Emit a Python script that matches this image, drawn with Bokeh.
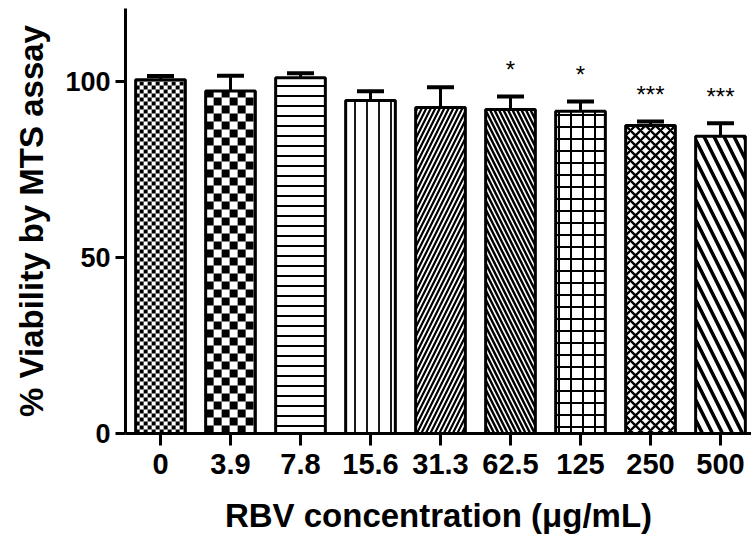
import math
from bokeh.plotting import figure
from bokeh.models import Range1d, FixedTicker
from bokeh.core.properties import value
from bokeh.embed import file_html
from bokeh.resources import INLINE

# ---- data ----
conc = ["0", "3.9", "7.8", "15.6", "31.3", "62.5", "125", "250", "500"]
viability = [100.5, 97.3, 101.0, 94.6, 92.6, 92.0, 91.5, 87.5, 84.4]
sem = [1.0, 4.3, 1.3, 2.6, 5.7, 3.7, 2.8, 1.1, 3.7]
sig = ["", "", "", "", "", "*", "*", "***", "***"]
y_ticks = [0, 50, 100]

# ---- styling ----
FONT = "Liberation Sans"
FRAME_W, FRAME_H = 626, 425
X0, X1 = -0.5, -0.5 + 626 / 70.0
Y0, Y1 = 0, 120.7
PX_X = FRAME_W / (X1 - X0)
PX_Y = FRAME_H / (Y1 - Y0)
BW = 0.71

patterns = [None, None, "horizontal_line", "vertical_line", "right_diagonal_line",
            "left_diagonal_line", "cross", "diagonal_cross", "left_diagonal_line"]
scales = [1, 1, 10, 12, 9, 9, 12, 10, 20]
weights = [1, 1, 2, 1.8, 2.2, 2.4, 2, 2.3, 3.5]
checker_px = [4, 8, 0, 0, 0, 0, 0, 0, 0]

p = figure(frame_width=FRAME_W, frame_height=FRAME_H,
           x_range=Range1d(X0, X1), y_range=Range1d(Y0, Y1),
           output_backend="svg", toolbar_location=None,
           min_border_left=125, min_border_right=0, min_border_top=8, min_border_bottom=109)
p.outline_line_color = None
p.xgrid.visible = False
p.ygrid.visible = False
p.background_fill_color = "white"
p.border_fill_color = "white"

xs = list(range(len(conc)))

# error bars (upper only)
tops = [v + e for v, e in zip(viability, sem)]
cap = 13.5 / PX_X
p.segment(x0=xs, y0=viability, x1=xs, y1=tops, line_color="black", line_width=3)
p.segment(x0=[x - cap for x in xs], y0=tops, x1=[x + cap for x in xs], y1=tops,
          line_color="black", line_width=4)

# bars with hatch
for i in xs:
    kw = {}
    if patterns[i]:
        kw = dict(hatch_pattern=patterns[i], hatch_scale=scales[i],
                  hatch_weight=weights[i], hatch_color="black")
    p.vbar(x=[i], top=[viability[i]], width=BW, bottom=0,
           fill_color="white", line_color=None, **kw)

# checkerboard fills
for i in xs:
    c = checker_px[i]
    if not c:
        continue
    cw, ch = c / PX_X, c / PX_Y
    left0 = i - BW / 2
    right0 = i + BW / 2
    top0 = viability[i]
    nx = int(math.ceil(BW / cw))
    ny = int(math.ceil(top0 / ch))
    L, R, B, T = [], [], [], []
    for a in range(nx):
        for b in range(ny):
            if (a + b) % 2 == 0:
                l = left0 + a * cw
                bt = b * ch
                L.append(l)
                R.append(min(l + cw, right0))
                B.append(bt)
                T.append(min(bt + ch, top0))
    p.quad(left=L, right=R, bottom=B, top=T, fill_color="black", line_color=None)

# bar outlines
p.vbar(x=xs, top=viability, width=BW, bottom=0, fill_color=None,
       line_color="black", line_width=3)

# significance stars
star_y = [t + 7.6 for t in tops]
sx = [x for x, s in zip(xs, sig) if s]
sy = [y for y, s in zip(star_y, sig) if s]
st = [s for s in sig if s]
p.text(x=sx, y=sy, text=st, text_align="center", text_baseline="middle",
       text_font=value(FONT), text_font_size="24px", text_color="black")

# axes
for ax in (p.xaxis[0], p.yaxis[0]):
    ax.axis_line_width = 3
    ax.axis_line_color = "black"
    ax.major_tick_line_width = 3
    ax.major_tick_in = 0
    ax.minor_tick_line_color = None
    ax.major_label_text_font = FONT
    ax.major_label_text_font_style = "bold"
    ax.major_label_text_color = "black"
    ax.axis_label_text_font = FONT
    ax.axis_label_text_font_style = "bold"
    ax.axis_label_text_color = "black"
    ax.axis_label_text_font_size = "33px"

p.xaxis.ticker = FixedTicker(ticks=xs)
p.xaxis.major_label_overrides = {i: c for i, c in enumerate(conc)}
p.xaxis.major_tick_out = 12
p.xaxis.major_label_text_font_size = "29px"
p.xaxis.major_label_standoff = 8
p.xaxis.axis_label = "RBV concentration (\u03bcg/mL)"
p.xaxis.axis_label_standoff = 20

p.yaxis.ticker = FixedTicker(ticks=y_ticks)
p.yaxis.major_tick_out = 10
p.yaxis.major_label_text_font_size = "27px"
p.yaxis.major_label_standoff = 5
p.yaxis.axis_label = "% Viability by MTS assay"
p.yaxis.axis_label_standoff = 12

open("out.html", "w").write(file_html(p, INLINE))
